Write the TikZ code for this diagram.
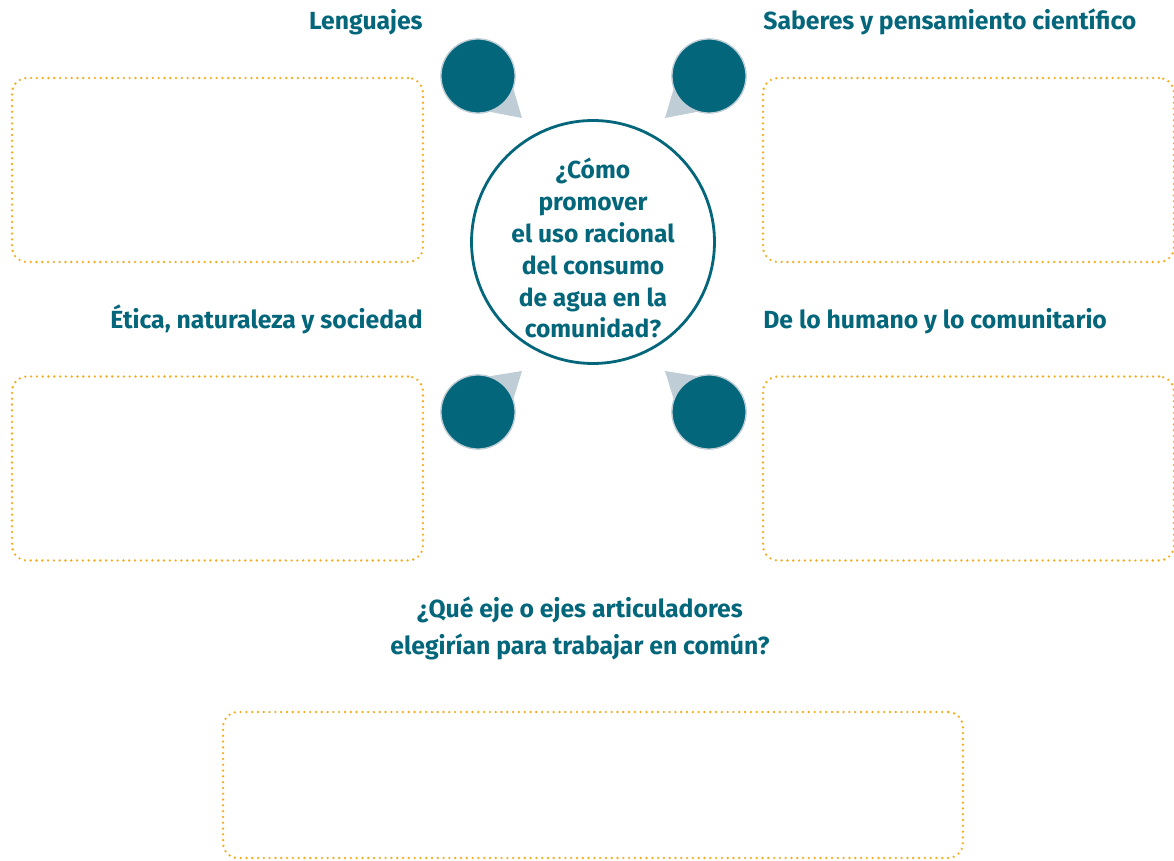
\documentclass[tikz,border=0pt]{standalone}
\usepackage{fontspec}
\setmainfont{Fira Sans}
\definecolor{tealq}{HTML}{03667A}
\definecolor{tailq}{HTML}{BFCDD6}
\definecolor{dotq}{HTML}{F4AE25}
\begin{document}
\begin{tikzpicture}[x=0.02cm,y=-0.02cm,
        title/.style = {font=\bfseries\fontsize{14.1}{21}\selectfont, text=tealq, inner sep=0pt},
        answerbox/.style = {draw=dotq, line width=1.5pt, line cap=round,
            dash pattern=on 0pt off 3.3pt, rounded corners=0.3cm, minimum width=8.22cm, minimum height=3.68cm},
        bubble/.style = {circle, fill=tealq, draw=tailq, line width=0.7pt, minimum size=1.48cm, inner sep=0pt},
        tail/.style = {fill=tailq}]
    \useasboundingbox (0,0) rectangle (1174,861);
    % central question
    \node[circle, draw=tealq, line width=1.6pt, minimum size=4.86cm, inner sep=0pt] (q) at (593,242) {};
    \node[align=center, font=\bfseries\fontsize{14}{18.2}\selectfont, text=tealq] (qt) at (593,248)
        {¿Cómo\\promover\\el uso racional\\del consumo\\de agua en la\\comunidad?};
    % tails first, then the bubbles
    \coordinate (tl) at (522,118);
    \coordinate (tr) at (665,118);
    \coordinate (bl) at (522,371);
    \coordinate (br) at (665,371);
    \node[bubble] (lng) at (478,76) {};
    \node[bubble] (sab) at (709,76) {};
    \node[bubble] (eti) at (478,412) {};
    \node[bubble] (hum) at (709,412) {};
    \fill[tail] (lng.-20) -- (tl) -- (lng.-72) -- cycle;
    \fill[tail] (sab.200) -- (tr) -- (sab.252) -- cycle;
    \fill[tail] (eti.20) -- (bl) -- (eti.72) -- cycle;
    \fill[tail] (hum.160) -- (br) -- (hum.108) -- cycle;
    \node[bubble] at (lng) {};
    \node[bubble] at (sab) {};
    \node[bubble] at (eti) {};
    \node[bubble] at (hum) {};
    % areas
    \node[title, anchor=base east] (t1) at (423,30) {Lenguajes};
    \node[title, anchor=base west] (t2) at (763,30) {Saberes y pensamiento científico};
    \node[title, anchor=base east] (t3) at (423,329) {Ética, naturaleza y sociedad};
    \node[title, anchor=base west] (t4) at (763,329) {De lo humano y lo comunitario};
    \node[answerbox] (b1) at (217.5,170) {};
    \node[answerbox] (b2) at (968.5,170) {};
    \node[answerbox] (b3) at (217.5,468.5) {};
    \node[answerbox] (b4) at (968.5,468.5) {};
    % ejes articuladores
    \node[title, align=center] (t5) at (580,628)
        {¿Qué eje o ejes articuladores\\elegirían para trabajar en común?};
    \node[answerbox, minimum width=14.8cm, minimum height=2.92cm] (b5) at (593,785) {};
\end{tikzpicture}
\end{document}
